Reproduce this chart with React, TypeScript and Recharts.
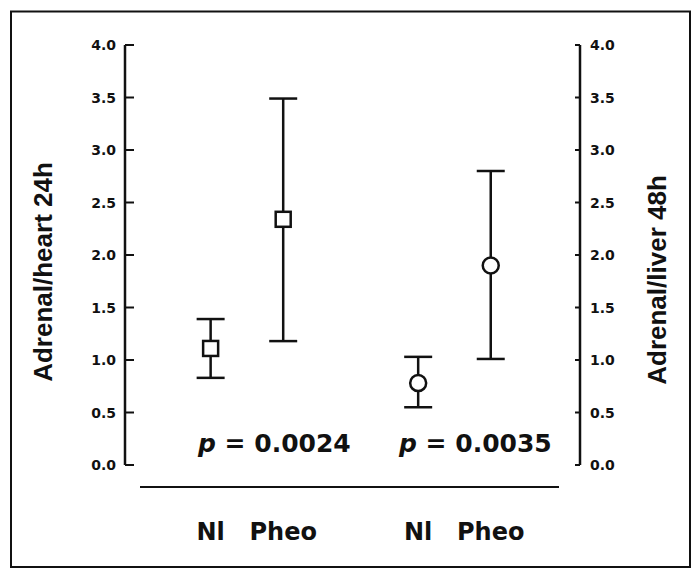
import React from "react";
import { ScatterChart, Scatter, XAxis, YAxis, ErrorBar } from "recharts";

// ---- data ----
const categories = ["Nl", "Pheo"];
const heartMean = [1.11, 2.34];
const heartLow = [0.83, 1.18];
const heartHigh = [1.39, 3.49];
const liverMean = [0.78, 1.9];
const liverLow = [0.55, 1.01];
const liverHigh = [1.03, 2.8];
const yTicks = [0, 0.5, 1, 1.5, 2, 2.5, 3, 3.5, 4];
const pValues = ["0.0024", "0.0035"];
const leftTitle = "Adrenal/heart 24h";
const rightTitle = "Adrenal/liver 48h";

// layout constant: distance between the two groups in category units
const GROUP_STEP = 2.86;

type Row = { x: number; y: number; err: [number, number]; label: string };

function build(gi: number, mean: number[], low: number[], high: number[]): Row[] {
  return categories.map((c, ci) => ({
    x: gi * GROUP_STEP + ci,
    y: mean[ci],
    err: [mean[ci] - low[ci], high[ci] - mean[ci]],
    label: c,
  }));
}

const heartData = build(0, heartMean, heartLow, heartHigh);
const liverData = build(1, liverMean, liverLow, liverHigh);
const allRows = [...heartData, ...liverData];
const xTicks = allRows.map((r) => r.x);

const INK = "#111";
const FONT = "'DejaVu Sans', sans-serif";
const TITLE_FONT = "'Liberation Sans', Arial, sans-serif";

const W = 694;
const H = 569;
const LEFT_AXIS_W = 125;
const RIGHT_AXIS_W = 114;
const TOP = 45;
const X_AXIS_H = 104;

const LeftTick = (props: any) => {
  const { x, y, payload } = props;
  return (
    <g>
      <line x1={x + 9} y1={y} x2={x + 18} y2={y} stroke={INK} strokeWidth={2} />
      <text x={x} y={y} dy="0.36em" textAnchor="end" fontFamily={FONT} fontWeight="bold" fontSize={14} fill={INK}>
        {Number(payload.value).toFixed(1)}
      </text>
    </g>
  );
};

const RightTick = (props: any) => {
  const { x, y, payload } = props;
  return (
    <g>
      <line x1={x - 10} y1={y} x2={x - 15} y2={y} stroke={INK} strokeWidth={2} />
      <text x={x} y={y} dy="0.36em" textAnchor="start" fontFamily={FONT} fontWeight="bold" fontSize={14} fill={INK}>
        {Number(payload.value).toFixed(1)}
      </text>
    </g>
  );
};

const CatTick = (props: any) => {
  const { x, y, payload } = props;
  const row = allRows.find((r) => Math.abs(r.x - payload.value) < 1e-6);
  return (
    <text x={x} y={y + 75} textAnchor="middle" fontFamily={FONT} fontWeight="bold" fontSize={24} fill={INK}>
      {row ? row.label : ""}
    </text>
  );
};

const SquareMark = (p: any) => (
  <rect x={p.cx - 7.5} y={p.cy - 7.5} width={15} height={15} fill="#fff" stroke={INK} strokeWidth={2.5} />
);
const CircleMark = (p: any) => (
  <circle cx={p.cx} cy={p.cy} r={8} fill="#fff" stroke={INK} strokeWidth={2.5} />
);

export default function App() {
  return (
    <div style={{ position: "absolute", left: 0, top: 0, width: W, height: H, background: "#fff" }}>
      <svg width={W} height={H} style={{ position: "absolute", left: 0, top: 0 }}>
        <rect x={11} y={11.5} width={679} height={555.5} fill="none" stroke={INK} strokeWidth={2} />
        <line x1={140} y1={487} x2={559} y2={487} stroke={INK} strokeWidth={2} />
        <text x={198} y={452} fontFamily={FONT} fontWeight="bold" fontSize={25} fill={INK}>
          <tspan fontStyle="italic">p</tspan> = {pValues[0]}
        </text>
        <text x={399} y={452} fontFamily={FONT} fontWeight="bold" fontSize={25} fill={INK}>
          <tspan fontStyle="italic">p</tspan> = {pValues[1]}
        </text>
        <text
          x={0}
          y={0}
          transform="translate(52,272) rotate(-90)"
          textAnchor="middle"
          fontFamily={TITLE_FONT}
          fontWeight="bold"
          fontSize={26}
          fill={INK}
        >
          {leftTitle}
        </text>
        <text
          x={0}
          y={0}
          transform="translate(666,280) rotate(-90)"
          textAnchor="middle"
          fontFamily={TITLE_FONT}
          fontWeight="bold"
          fontSize={26}
          fill={INK}
        >
          {rightTitle}
        </text>
      </svg>
      <div style={{ position: "absolute", left: 0, top: 0 }}>
        <ScatterChart width={W} height={H} margin={{ top: TOP, right: 0, bottom: 0, left: 0 }}>
          <XAxis
            type="number"
            dataKey="x"
            domain={[-1.18, 5.09]}
            ticks={xTicks}
            interval={0}
            allowDataOverflow
            height={X_AXIS_H}
            axisLine={false}
            tickLine={false}
            tickSize={0}
            tickMargin={0}
            tick={<CatTick />}
          />
          <YAxis
            yAxisId="left"
            type="number"
            dataKey="y"
            domain={[0, 4]}
            ticks={yTicks}
            interval={0}
            width={LEFT_AXIS_W}
            axisLine={{ stroke: INK, strokeWidth: 2.5 }}
            tickLine={false}
            tickSize={0}
            tickMargin={9}
            tick={<LeftTick />}
          />
          <YAxis
            yAxisId="right"
            orientation="right"
            type="number"
            dataKey="y"
            domain={[0, 4]}
            ticks={yTicks}
            interval={0}
            width={RIGHT_AXIS_W}
            axisLine={{ stroke: INK, strokeWidth: 2.5 }}
            tickLine={false}
            tickSize={0}
            tickMargin={10}
            tick={<RightTick />}
          />
          <Scatter data={heartData} yAxisId="left" shape={SquareMark} isAnimationActive={false}>
            <ErrorBar dataKey="err" direction="y" width={14} stroke={INK} strokeWidth={2.5} />
          </Scatter>
          <Scatter data={liverData} yAxisId="right" shape={CircleMark} isAnimationActive={false}>
            <ErrorBar dataKey="err" direction="y" width={14} stroke={INK} strokeWidth={2.5} />
          </Scatter>
        </ScatterChart>
      </div>
    </div>
  );
}
